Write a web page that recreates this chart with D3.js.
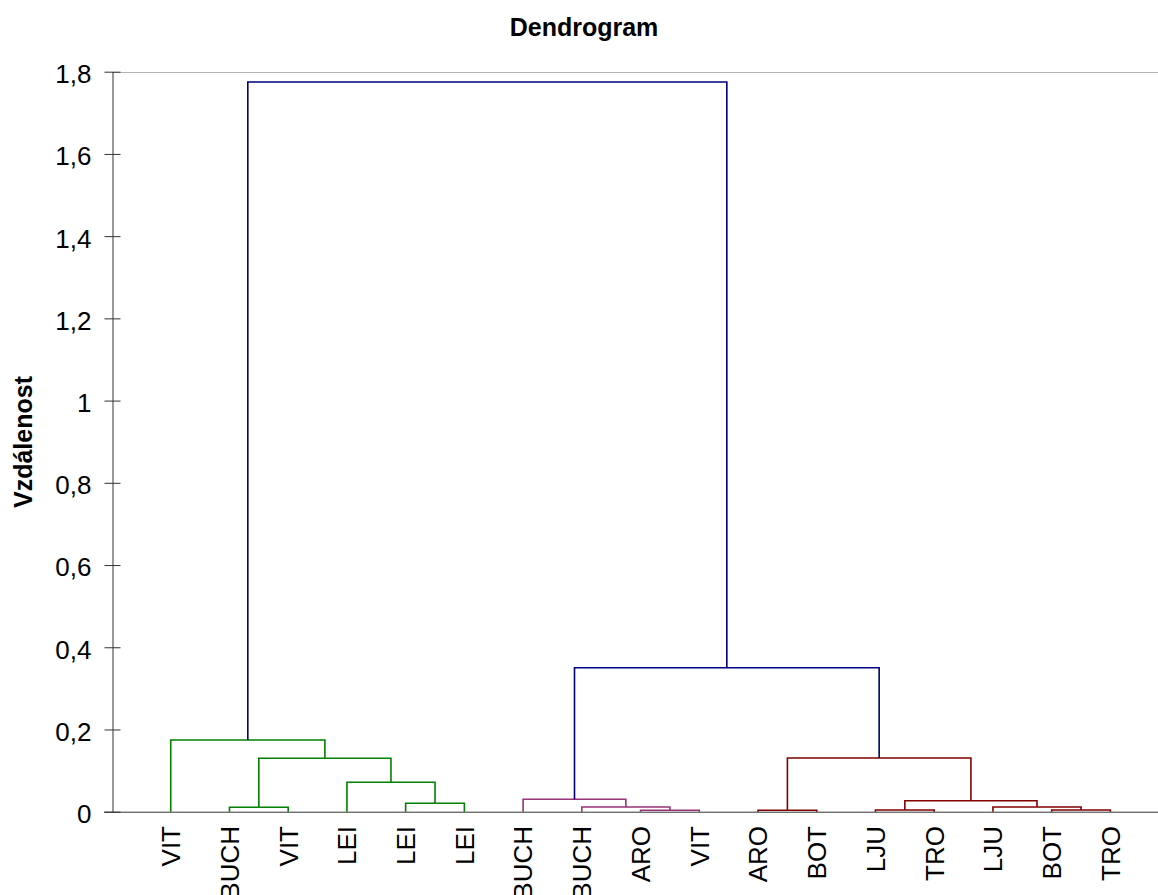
<!DOCTYPE html>
<html>
<head>
<meta charset="utf-8">
<script src="https://cdn.jsdelivr.net/npm/d3@7"></script>
<style>
  html, body { margin: 0; padding: 0; background: #fff; }
  svg { display: block; font-family: "Liberation Sans", Arial, sans-serif; }
</style>
</head>
<body>
<svg id="chart" width="1158" height="895"></svg>
<script>
// ---- Data ----
const title = "Dendrogram";
const yTitle = "Vzdálenost";
const leafLabels = ["VIT","BUCH","VIT","LEI","LEI","LEI","BUCH","BUCH","ARO","VIT","ARO","BOT","LJU","TRO","LJU","BOT","TRO"];
// linkage: node ids 0..16 are leaves, merge k gets id 17+k
const mergeLeft   = [8, 10, 12, 15, 1, 7, 14, 4, 19, 6, 3, 21, 18, 0, 26, 30];
const mergeRight  = [9, 11, 13, 16, 2, 17, 20, 5, 23, 22, 24, 27, 25, 28, 29, 31];
const mergeHeight = [0.0034, 0.0034, 0.0041, 0.0041, 0.0107, 0.0114, 0.0114, 0.0204, 0.0268, 0.0302, 0.0715, 0.130, 0.1306, 0.1744, 0.35, 1.775];
const mergeGroup  = ["mag","red","red","red","green","mag","red","green","red","mag","green","green","red","green","blue","blue"];
const yTicks = [0, 0.2, 0.4, 0.6, 0.8, 1, 1.2, 1.4, 1.6, 1.8];

const groupColor = { green: "#008000", mag: "#993377", red: "#800000", blue: "#000080" };

// ---- Layout ----
const W = 1158, H = 895;
const plotLeft = 112, plotTop = 72, plotBottom = 812;
const step = 58.73;

const svg = d3.select("#chart");

const x = d3.scaleLinear().domain([0, 18]).range([plotLeft, plotLeft + 18 * step]);
const y = d3.scaleLinear().domain([0, 1.8]).range([plotBottom - 0.3, plotTop - 0.3]);

const fmt = d3.formatLocale({ decimal: ",", thousands: " ", grouping: [3], currency: ["", ""] }).format("~g");

// top border (gray)
svg.append("line")
  .attr("x1", plotLeft).attr("x2", W)
  .attr("y1", Math.round(y(1.8)) + 0.5).attr("y2", Math.round(y(1.8)) + 0.5)
  .attr("stroke", "#b4b4b4").attr("stroke-width", 1);

// node positions
const nodeX = [], nodeH = [];
leafLabels.forEach((d, i) => { nodeX[i] = x(i + 1); nodeH[i] = 0; });
mergeHeight.forEach((h, k) => {
  const id = leafLabels.length + k;
  nodeX[id] = (nodeX[mergeLeft[k]] + nodeX[mergeRight[k]]) / 2;
  nodeH[id] = h;
});

// dendrogram links
const links = svg.append("g").attr("fill", "none").attr("stroke-width", 1.6);
mergeHeight.forEach((h, k) => {
  const a = mergeLeft[k], b = mergeRight[k];
  const p = d3.path();
  p.moveTo(nodeX[a], y(nodeH[a]));
  p.lineTo(nodeX[a], y(h));
  p.lineTo(nodeX[b], y(h));
  p.lineTo(nodeX[b], y(nodeH[b]));
  links.append("path").attr("d", p.toString()).attr("stroke", groupColor[mergeGroup[k]]);
});

// y axis
const yAxis = d3.axisLeft(y).tickValues(yTicks).tickFormat(fmt).tickSizeInner(8).tickSizeOuter(0).tickPadding(13);
const gy = svg.append("g").attr("transform", `translate(${plotLeft + 0.5},0)`).call(yAxis);
gy.select(".domain").attr("stroke", "#333");
gy.selectAll(".tick line").attr("x1", 8).attr("stroke", "#333");
gy.selectAll(".tick text")
  .attr("font-size", 26).attr("fill", "#000").attr("dy", "0.42em")
  .attr("font-family", "'Liberation Sans', Arial, sans-serif");

// bottom axis line
svg.append("line")
  .attr("x1", plotLeft - 8).attr("x2", W)
  .attr("y1", y(0) + 0.5).attr("y2", y(0) + 0.5)
  .attr("stroke", "#333").attr("stroke-width", 1);

// leaf labels
svg.append("g").selectAll("text").data(leafLabels).join("text")
  .attr("transform", (d, i) => `translate(${x(i + 1)},826) rotate(-90)`)
  .attr("text-anchor", "end")
  .attr("dy", "0.36em")
  .attr("font-size", 26)
  .attr("fill", "#000")
  .text(d => d);

// title
svg.append("text")
  .attr("x", 584).attr("y", 36)
  .attr("text-anchor", "middle")
  .attr("font-size", 25).attr("font-weight", "bold")
  .text(title);

// y title
svg.append("text")
  .attr("transform", "translate(31.5,442) rotate(-90)")
  .attr("text-anchor", "middle")
  .attr("font-size", 25).attr("font-weight", "bold")
  .text(yTitle);
</script>
</body>
</html>
